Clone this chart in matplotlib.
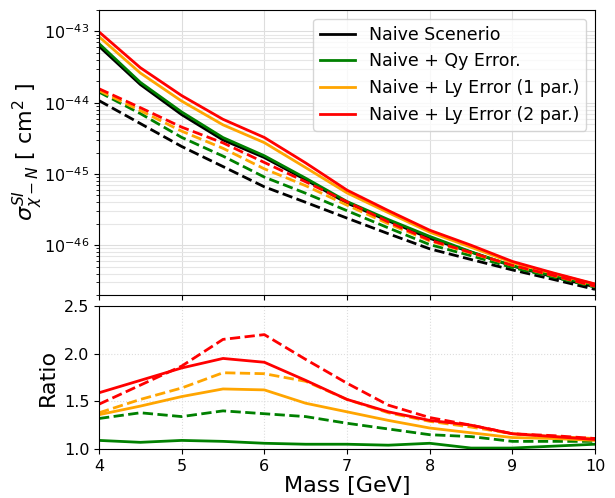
import numpy as np
import matplotlib
matplotlib.use('Agg')
import matplotlib.pyplot as plt

# Dark matter mass points [GeV]
mass = [4, 4.5, 5, 5.5, 6, 6.5, 7, 7.5, 8, 8.5, 9, 9.5, 10]

# Cross section limits, solid lines
naive_solid = [6.2e-44, 1.8e-44, 6.8e-45, 3.0e-45, 1.7e-45, 8.3e-46, 3.9e-46,
               2.2e-46, 1.25e-46, 8.0e-47, 5.1e-47, 3.6e-47, 2.6e-47]
qy_solid = [6.76e-44, 1.93e-44, 7.41e-45, 3.24e-45, 1.80e-45, 8.72e-46, 4.10e-46,
            2.29e-46, 1.33e-46, 8.08e-47, 5.15e-47, 3.71e-47, 2.73e-47]
ly1_solid = [8.43e-44, 2.61e-44, 1.054e-44, 4.89e-45, 2.75e-45, 1.228e-45, 5.42e-46,
             2.86e-46, 1.525e-46, 9.36e-47, 5.71e-47, 4.0e-47, 2.83e-47]
ly2_solid = [9.86e-44, 3.10e-44, 1.258e-44, 5.85e-45, 3.25e-45, 1.428e-45, 5.93e-46,
             3.06e-46, 1.625e-46, 1.0e-46, 5.92e-47, 4.07e-47, 2.86e-47]

# Cross section limits, dashed lines
naive_dash = [1.07e-44, 5.1e-45, 2.43e-45, 1.27e-45, 6.6e-46, 4.0e-46, 2.4e-46,
              1.45e-46, 8.9e-47, 6.3e-47, 4.5e-47, 3.3e-47, 2.4e-47]
qy_dash = [1.41e-44, 7.04e-45, 3.26e-45, 1.78e-45, 9.04e-46, 5.36e-46, 3.05e-46,
           1.75e-46, 1.02e-46, 7.12e-47, 4.86e-47, 3.56e-47, 2.59e-47]
ly1_dash = [1.48e-44, 7.75e-45, 3.99e-45, 2.29e-45, 1.18e-45, 6.84e-46, 3.65e-46,
            2.0e-46, 1.15e-46, 7.75e-47, 5.22e-47, 3.73e-47, 2.66e-47]
ly2_dash = [1.57e-44, 8.52e-45, 4.54e-45, 2.73e-45, 1.45e-45, 7.76e-46, 4.06e-46,
            2.12e-46, 1.18e-46, 7.88e-47, 5.22e-47, 3.76e-47, 2.66e-47]

# Ratios to the naive scenario
qy_ratio_solid = [1.09, 1.07, 1.09, 1.08, 1.06, 1.05, 1.05, 1.04, 1.06, 1.01, 1.01, 1.03, 1.05]
ly1_ratio_solid = [1.36, 1.45, 1.55, 1.63, 1.62, 1.48, 1.39, 1.30, 1.22, 1.17, 1.12, 1.11, 1.09]
ly2_ratio_solid = [1.59, 1.72, 1.85, 1.95, 1.91, 1.72, 1.52, 1.39, 1.30, 1.25, 1.16, 1.13, 1.10]
qy_ratio_dash = [1.32, 1.38, 1.34, 1.40, 1.37, 1.34, 1.27, 1.21, 1.15, 1.13, 1.08, 1.08, 1.08]
ly1_ratio_dash = [1.38, 1.52, 1.64, 1.80, 1.79, 1.71, 1.52, 1.38, 1.29, 1.23, 1.16, 1.13, 1.11]
ly2_ratio_dash = [1.47, 1.67, 1.87, 2.15, 2.20, 1.94, 1.69, 1.46, 1.33, 1.25, 1.16, 1.14, 1.11]

labels = ['Naive Scenerio', 'Naive + Qy Error.', 'Naive + Ly Error (1 par.)', 'Naive + Ly Error (2 par.)']
colors = ['black', 'green', 'orange', 'red']

fig = plt.figure(figsize=(6.15, 4.98), dpi=100)
ax1 = fig.add_axes([0.161, 0.4076, 0.8065, 0.5723])
ax2 = fig.add_axes([0.161, 0.0984, 0.8065, 0.2871], sharex=ax1)

# top panel
solids = [naive_solid, qy_solid, ly1_solid, ly2_solid]
dashes = [naive_dash, qy_dash, ly1_dash, ly2_dash]
for s, d, c, lab in zip(solids, dashes, colors, labels):
    ax1.plot(mass, s, color=c, lw=2, label=lab)
    ax1.plot(mass, d, color=c, lw=2, ls='--')

ax1.set_yscale('log')
ax1.set_ylim(2e-47, 2e-43)
ax1.set_xlim(4, 10)
ax1.grid(True, which='major', color='#dddddd', lw=0.8)
ax1.grid(True, which='minor', axis='y', color='#e6e6e6', lw=0.8)
ax1.tick_params(axis='x', labelbottom=False)
ax1.tick_params(labelsize=11.5)
ax1.set_ylabel(r'$\sigma^{SI}_{\chi-N}$ [ cm$^2$ ]', fontsize=16, labelpad=-1)
ax1.legend(loc='upper right', fontsize=12.5, handlelength=2.0)

# bottom panel
ratio_solid = [qy_ratio_solid, ly1_ratio_solid, ly2_ratio_solid]
ratio_dash = [qy_ratio_dash, ly1_ratio_dash, ly2_ratio_dash]
for s, d, c in zip(ratio_solid, ratio_dash, colors[1:]):
    ax2.plot(mass, s, color=c, lw=2)
    ax2.plot(mass, d, color=c, lw=2, ls='--')

ax2.set_ylim(1.0, 2.5)
ax2.set_yticks([1.0, 1.5, 2.0, 2.5])
ax2.set_xticks([4, 5, 6, 7, 8, 9, 10])
ax2.grid(True, color='#dddddd', lw=0.8, ls=':')
ax2.tick_params(labelsize=11.5)
ax2.set_ylabel('Ratio', fontsize=16, labelpad=4)
ax2.set_xlabel('Mass [GeV]', fontsize=16, labelpad=2)

fig.savefig('out.png', dpi=100)
